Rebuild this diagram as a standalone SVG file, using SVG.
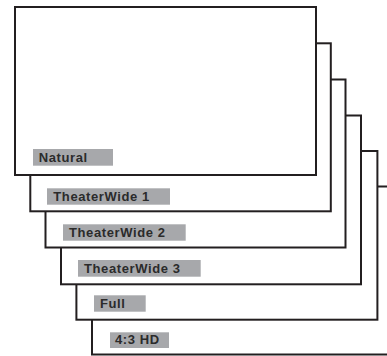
<svg xmlns="http://www.w3.org/2000/svg" width="387" height="356" viewBox="0 0 387 356">
<style>
.frame{fill:#fff;stroke:#231f20;stroke-width:2}
.lbl{fill:#a7a8ab}
.txt{font-family:"Liberation Sans",Arial,sans-serif;font-weight:bold;font-size:13px;letter-spacing:0.6px;fill:#2b2b2b}
</style>
<rect width="387" height="356" fill="#fff"/>
<g id="node-43hd">
<rect class="frame" x="92" y="186.5" width="301" height="168"/>
<rect class="lbl" x="110" y="332.3" width="59" height="15.7"/>
<text class="txt" x="115" y="344.3">4:3 HD</text>
</g>
<g id="node-full">
<rect class="frame" x="76.4" y="151" width="301" height="168.7"/>
<rect class="lbl" x="94" y="295.3" width="51.7" height="16.4"/>
<text class="txt" x="100" y="308.3">Full</text>
</g>
<g id="node-theaterwide3">
<rect class="frame" x="61" y="115.5" width="300" height="168.8"/>
<rect class="lbl" x="78" y="260" width="122.7" height="16.7"/>
<text class="txt" x="84" y="272.7">TheaterWide 3</text>
</g>
<g id="node-theaterwide2">
<rect class="frame" x="45.5" y="79.5" width="300" height="168"/>
<rect class="lbl" x="63" y="224.3" width="122.7" height="16.4"/>
<text class="txt" x="69" y="236.7">TheaterWide 2</text>
</g>
<g id="node-theaterwide1">
<rect class="frame" x="30.3" y="43.3" width="300.5" height="168"/>
<rect class="lbl" x="47" y="188.3" width="123" height="16.4"/>
<text class="txt" x="53.3" y="201">TheaterWide 1</text>
</g>
<g id="node-natural">
<rect class="frame" x="15" y="7" width="301" height="168"/>
<rect class="lbl" x="33" y="149" width="80" height="16.7"/>
<text class="txt" x="38.7" y="161.7">Natural</text>
</g>
<g id="connectors"/>
</svg>
